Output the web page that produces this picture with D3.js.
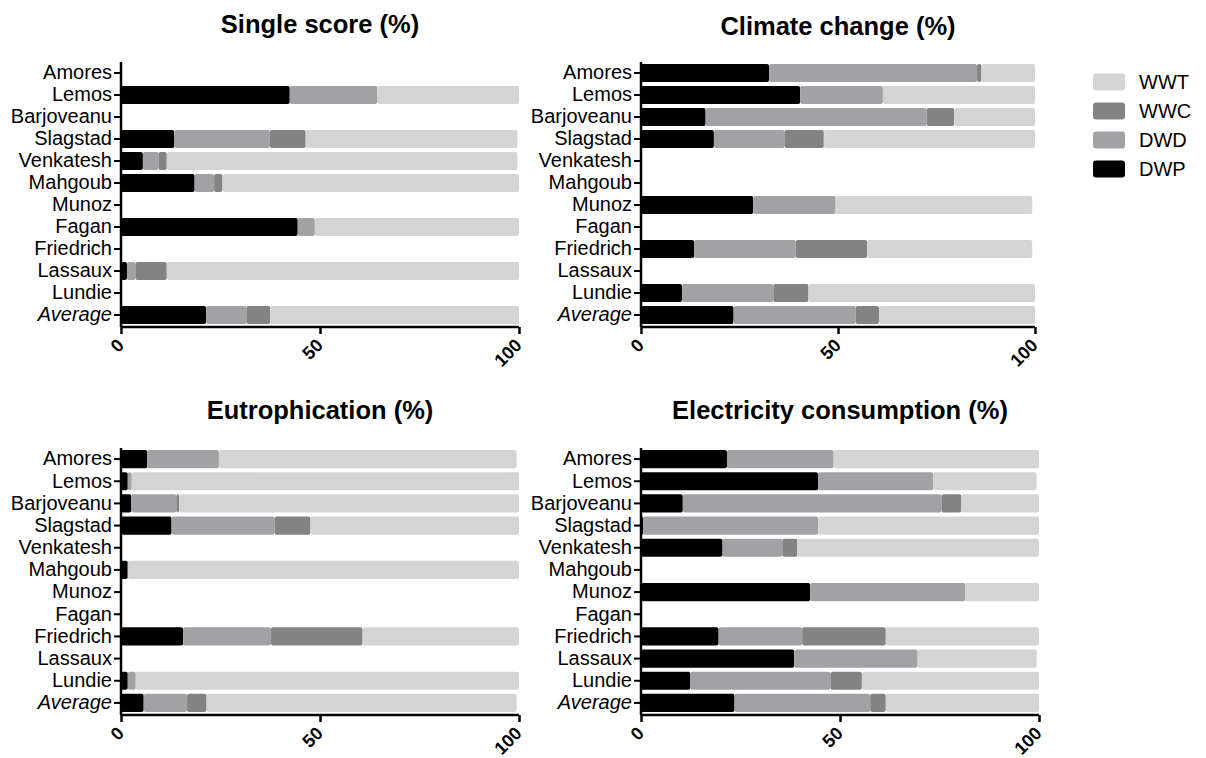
<!DOCTYPE html>
<html><head><meta charset="utf-8">
<script src="https://cdn.jsdelivr.net/npm/d3@7"></script>
<style>body{margin:0;background:#fff}svg{display:block}</style>
</head><body><svg id="c" width="1206" height="758"></svg>
<script>
// ---- data ----
const categories = ["Amores","Lemos","Barjoveanu","Slagstad","Venkatesh","Mahgoub","Munoz","Fagan","Friedrich","Lassaux","Lundie","Average"];
const seriesNames = ["DWP","DWD","WWC","WWT"];
const legendOrder = ["WWT","WWC","DWD","DWP"];
const xTicks = [0,50,100];
const titles = ["Single score (%)","Climate change (%)","Eutrophication (%)","Electricity consumption (%)"];

const singleDWP = [0,42.4,0,13.4,5.5,18.5,0,44.4,0,1.5,0,21.4];
const singleDWD = [0,22.0,0,24.0,3.9,4.9,0,4.3,0,2.1,0,10.1];
const singleWWC = [0,0,0,9.0,2.1,2.1,0,0,0,7.9,0,6.0];
const singleWWT = [0,35.6,0,53.2,88.1,74.5,0,51.3,0,88.5,0,62.5];

const climateDWP = [32.5,40.4,16.4,18.5,0,0,28.5,0,13.5,0,10.4,23.5];
const climateDWD = [52.8,21.0,56.1,17.9,0,0,20.9,0,25.8,0,23.2,31.0];
const climateWWC = [1.1,0,7.0,10.0,0,0,0,0,18.1,0,8.9,5.9];
const climateWWT = [13.6,38.6,20.5,53.6,0,0,49.9,0,41.9,0,57.5,39.6];

const eutroDWP = [6.6,1.7,2.6,12.7,0,1.7,0,0,15.6,0,1.7,5.7];
const eutroDWD = [18.0,1.0,11.3,25.9,0,0,0,0,22.1,0,2.0,10.9];
const eutroWWC = [0,0,0.7,9.0,0,0,0,0,23.0,0,0,4.9];
const eutroWWT = [74.8,97.3,85.4,52.4,0,98.3,0,0,39.3,0,96.3,77.9];

const elecDWP = [21.6,44.5,10.5,0.5,20.5,0,42.5,0,19.5,38.5,12.4,23.5];
const elecDWD = [26.8,28.9,65.0,44.0,15.0,0,39.0,0,21.0,31.0,35.2,34.1];
const elecWWC = [0,0,5.0,0,3.8,0,0,0,21.0,0,7.9,3.9];
const elecWWT = [51.6,26.0,19.5,55.5,60.7,0,18.5,0,38.5,29.9,44.5,38.5];

// ---- styles / layout ----
const colors = {DWP:"#000000", DWD:"#a2a2a6", WWC:"#838383", WWT:"#d4d4d4"};
const layouts = [
  {x0:121, x1:519, y0:62,  y1:326, tx:320, ty:33},
  {x0:641, x1:1035, y0:62, y1:326, tx:838, ty:35},
  {x0:121, x1:519, y0:448, y1:714, tx:320, ty:419},
  {x0:641, x1:1039, y0:448, y1:714, tx:840, ty:419}
];
const panelData = [
  [singleDWP, singleDWD, singleWWC, singleWWT],
  [climateDWP, climateDWD, climateWWC, climateWWT],
  [eutroDWP, eutroDWD, eutroWWC, eutroWWT],
  [elecDWP, elecDWD, elecWWC, elecWWT]
];

const svg = d3.select("#c");
svg.append("rect").attr("width",1206).attr("height",758).attr("fill","#fff");
const font = "'Liberation Sans', Arial, sans-serif";

panelData.forEach((arrs, pi) => {
  const L = layouts[pi];
  const rows = categories.map((c, i) => {
    const o = {cat: c};
    seriesNames.forEach((s, si) => o[s] = arrs[si][i]);
    return o;
  });
  const stacked = d3.stack().keys(seriesNames)(rows);
  const x = d3.scaleLinear().domain([0,100]).range([L.x0, L.x1]);
  const y = d3.scaleBand().domain(categories).range([L.y0, L.y1]).paddingInner(0.18).paddingOuter(0.09);
  const g = svg.append("g");

  stacked.forEach(layer => {
    g.append("g").selectAll("rect")
      .data(layer.filter(d => d[1] - d[0] > 0))
      .join("rect")
      .attr("x", d => x(d[0]))
      .attr("y", d => y(d.data.cat))
      .attr("width", d => x(d[1]) - x(d[0]))
      .attr("height", y.bandwidth())
      .attr("rx", 2)
      .attr("fill", colors[layer.key]);
  });

  // y axis
  const yAxis = g.append("g").attr("transform", `translate(${L.x0},0)`)
    .call(d3.axisLeft(y).tickSize(7).tickPadding(2));
  yAxis.select(".domain").attr("d", `M0,${L.y0}V${L.y1+1}`).attr("stroke","#000").attr("stroke-width",2.5);
  yAxis.selectAll(".tick line").attr("stroke","#000").attr("stroke-width",2);
  yAxis.selectAll(".tick text")
    .attr("font-family", font).attr("font-size", 20).attr("fill","#000")
    .attr("font-style", d => d === "Average" ? "italic" : "normal");

  // x axis
  const xAxis = g.append("g").attr("transform", `translate(0,${L.y1+1})`)
    .call(d3.axisBottom(x).tickValues(xTicks).tickSize(7).tickFormat(d3.format("d")));
  xAxis.select(".domain").attr("d", `M${L.x0},0H${L.x1}`).attr("stroke","#000").attr("stroke-width",2.5);
  xAxis.selectAll(".tick line").attr("stroke","#000").attr("stroke-width",2.5);
  xAxis.selectAll(".tick text")
    .attr("font-family", font).attr("font-size", 18).attr("font-weight","bold").attr("fill","#000")
    .attr("text-anchor","end")
    .attr("y", 0).attr("dy", "0.35em")
    .attr("transform", "translate(-1,15) rotate(-45)");

  // title
  svg.append("text").attr("x", L.tx).attr("y", L.ty)
    .attr("text-anchor","middle").attr("font-family", font)
    .attr("font-size", 25.5).attr("font-weight","bold").text(titles[pi]);
});

// legend
const lg = svg.append("g");
legendOrder.forEach((k, i) => {
  const yy = 82 + i * 29;
  lg.append("rect").attr("x",1093).attr("y",yy-8.5).attr("width",32).attr("height",17).attr("rx",3).attr("fill",colors[k]);
  lg.append("text").attr("x",1139).attr("y",yy).attr("dy","0.35em")
    .attr("font-family",font).attr("font-size",20).text(k);
});
</script></body></html>
